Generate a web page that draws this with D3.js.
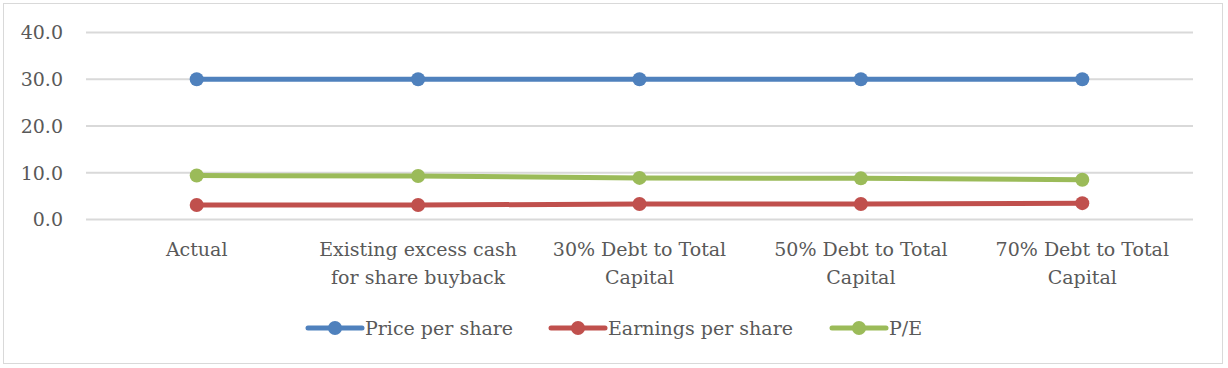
<!DOCTYPE html>
<html><head><meta charset="utf-8">
<script src="https://cdn.jsdelivr.net/npm/d3@7"></script>
<style>html,body{margin:0;padding:0;background:#fff;}</style>
</head><body>
<svg id="chart" width="1228" height="368"></svg>
<script>
const categories = [
  ["Actual"],
  ["Existing excess cash", "for share buyback"],
  ["30% Debt to Total", "Capital"],
  ["50% Debt to Total", "Capital"],
  ["70% Debt to Total", "Capital"]
];
const seriesNames = ["Price per share", "Earnings per share", "P/E"];
const pricePerShare = [30.0, 30.0, 30.0, 30.0, 30.0];
const earningsPerShare = [3.1, 3.1, 3.3, 3.3, 3.5];
const peRatio = [9.4, 9.3, 8.9, 8.8, 8.5];
const yTicks = [0, 10, 20, 30, 40];
const colors = ["#4f81bd", "#c0504d", "#9bbb59"];

const allSeries = [pricePerShare, earningsPerShare, peRatio];
const svg = d3.select("#chart");
const font = "'DejaVu Serif', serif";
const textColor = "#595959";

svg.append("rect").attr("x", 3.5).attr("y", 3.5).attr("width", 1219).attr("height", 360)
  .attr("fill", "#fff").attr("stroke", "#d9d9d9").attr("stroke-width", 1);

const x = d3.scaleBand().domain(d3.range(categories.length)).range([86, 1193]);
const y = d3.scaleLinear().domain([0, 40]).range([219.5, 32.5]);

// gridlines
svg.append("g").selectAll("line").data(yTicks).join("line")
  .attr("x1", 86).attr("x2", 1193)
  .attr("y1", d => y(d)).attr("y2", d => y(d))
  .attr("stroke", "#d9d9d9").attr("stroke-width", 1.8);

// y axis labels
const yAxis = d3.axisLeft(y).tickValues(yTicks).tickFormat(d3.format(".1f")).tickSize(0).tickPadding(0);
const ga = svg.append("g").attr("transform", "translate(63,0)").call(yAxis);
ga.select(".domain").remove();
ga.selectAll("text").attr("font-family", font).attr("font-size", 19).attr("fill", textColor).attr("dy", "0.34em");

// x labels
const xl = svg.append("g").selectAll("text").data(categories).join("text")
  .attr("text-anchor", "middle").attr("font-family", font).attr("font-size", 19).attr("fill", textColor);
xl.each(function(lines, i) {
  const t = d3.select(this);
  lines.forEach((ln, j) => {
    t.append("tspan").attr("x", x(i) + x.bandwidth() / 2).attr("y", 256 + j * 28).text(ln);
  });
});

// lines
const line = d3.line().x((d, i) => x(i) + x.bandwidth() / 2).y(d => y(d));
allSeries.forEach((vals, s) => {
  const g = svg.append("g");
  g.append("path").datum(vals).attr("d", line).attr("fill", "none")
    .attr("stroke", colors[s]).attr("stroke-width", 5).attr("stroke-linecap", "round");
  g.selectAll("circle").data(vals).join("circle")
    .attr("cx", (d, i) => x(i) + x.bandwidth() / 2).attr("cy", d => y(d))
    .attr("r", 7).attr("fill", colors[s]);
});

// legend
const legendX = [308, 551, 832];
const lg = svg.append("g").selectAll("g").data(seriesNames).join("g")
  .attr("transform", (d, i) => `translate(${legendX[i]},328)`);
lg.append("line").attr("x1", 0).attr("x2", 54).attr("y1", 0).attr("y2", 0)
  .attr("stroke", (d, i) => colors[i]).attr("stroke-width", 5).attr("stroke-linecap", "round");
lg.append("circle").attr("cx", 27).attr("cy", 0).attr("r", 7).attr("fill", (d, i) => colors[i]);
lg.append("text").attr("x", 57).attr("y", 0).attr("dy", "0.35em")
  .attr("font-family", font).attr("font-size", 19).attr("fill", textColor).text(d => d);
</script>
</body></html>
